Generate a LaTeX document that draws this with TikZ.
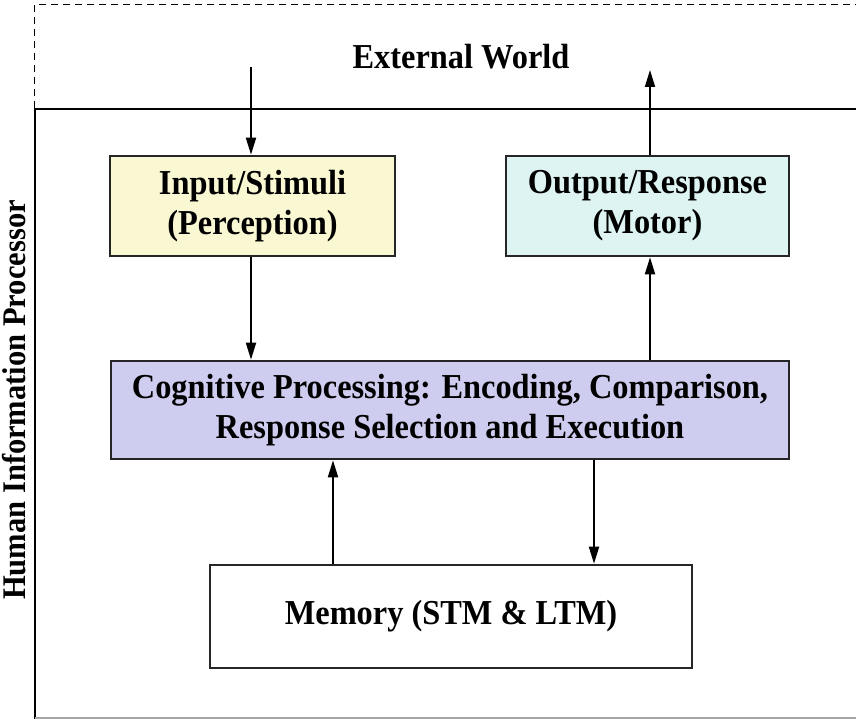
\documentclass[tikz,border=0pt]{standalone}
\usepackage{fontspec}
\setmainfont{Liberation Serif}[FakeStretch=0.925]
\usetikzlibrary{arrows.meta}
\definecolor{inyellow}{HTML}{FAF8D2}
\definecolor{outcyan}{HTML}{DDF4F2}
\definecolor{coglav}{HTML}{CFCDEF}
\begin{document}
\begin{tikzpicture}[x=1pt,y=-1pt,
  box/.style={draw=black!85,line width=2.6pt,align=center,inner sep=0pt,font=\fontsize{35}{40}\selectfont\bfseries},
  conn/.style={line width=1.8pt,-{Triangle[length=17pt,width=10pt]}},
  lbl/.style={font=\fontsize{35}{40}\selectfont\bfseries}]
\useasboundingbox (0,0) rectangle (856,719);
% frame
\draw[dashed,line width=1pt,dash pattern=on 7pt off 5pt] (34,108) -- (34,5) -- (856,5);
\draw[line width=2pt] (856,109) -- (35,109) -- (35,719);
\draw[line width=1.5pt,black!35] (35,718) -- (856,718);
\node[lbl] (ext) at (461,57) {External World};
\node[lbl,rotate=90,font=\fontsize{33}{38}\selectfont\bfseries] (hip) at (14,400) {Human Information Processor};
% boxes
\node[box,fill=inyellow,minimum width=285pt,minimum height=100pt] (inp) at (252.5,206) {Input/Stimuli\\(Perception)};
\node[box,fill=outcyan,minimum width=283pt,minimum height=100pt] (out) at (647.5,206) {Output/Response\\(Motor)};
\node[box,fill=coglav,minimum width=678pt,minimum height=98pt] (cog) at (450,410) {Cognitive Processing: Encoding, Comparison,\\Response Selection and Execution};
\node[box,fill=white,minimum width=482pt,minimum height=103pt] (mem) at (451,616.5) {Memory (STM \& LTM)};
% connectors
\coordinate (ein) at (251,67);
\coordinate (eout) at (650,70);
\draw[conn] (ein) -- (ein |- inp.north);
\draw[conn] (out.north -| eout) -- (eout);
\draw[conn] (inp.south -| ein) -- (cog.north -| ein);
\draw[conn] (cog.north -| eout) -- (out.south -| eout);
\coordinate (mup) at (333,0);
\coordinate (mdn) at (594,0);
\draw[conn] (mem.north -| mup) -- (cog.south -| mup);
\draw[conn] (cog.south -| mdn) -- (mem.north -| mdn);
\end{tikzpicture}
\end{document}
